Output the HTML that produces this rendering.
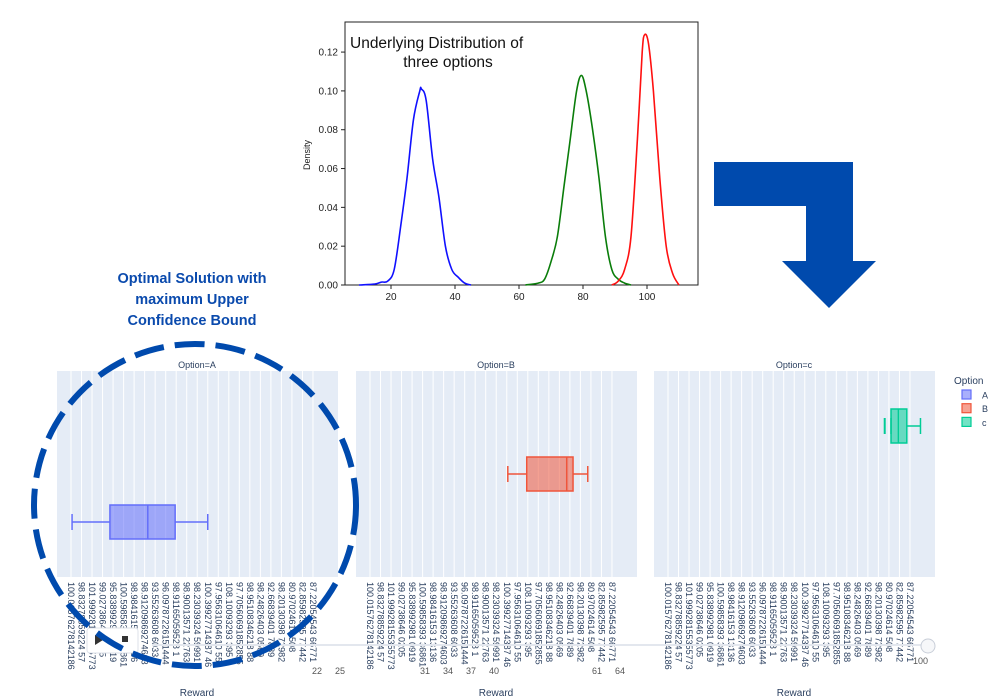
<!DOCTYPE html>
<html><head><meta charset="utf-8">
<style>
html,body{margin:0;padding:0;background:#fff;}
svg{display:block;font-family:"Liberation Sans",sans-serif;}
</style></head>
<body>
<svg id="root" width="1000" height="700" viewBox="0 0 1000 700">
  <g id="density">
    <rect x="345" y="22" width="353" height="263" fill="none" stroke="#222" stroke-width="1"/>
    <text x="350" y="48" font-size="15.5" fill="#111">Underlying Distribution of</text>
    <text x="448" y="67" font-size="15.5" fill="#111" text-anchor="middle">three options</text>
    <text transform="translate(310,155) rotate(-90)" font-size="9" fill="#222" text-anchor="middle">Density</text>
  </g>
  <path d="M714 162 H853 V261 H876 L829 308 L782 261 H806 V206 H714 Z" fill="#004aad"/>
  <g font-size="14.5" font-weight="bold" fill="#0a4aad" text-anchor="middle">
    <text x="192" y="283">Optimal Solution with</text>
    <text x="192" y="304">maximum Upper</text>
    <text x="192" y="325">Confidence Bound</text>
  </g>
  <g id="facets"></g>
  <g>
    <rect x="87" y="628" width="51" height="25" rx="3" fill="#fff" stroke="#dde2ea"/>
    <path d="M95 635 L103 640 L95 645 Z" fill="#333"/>
    <rect x="122" y="636" width="6" height="6" fill="#333"/>
    <line x1="152" y1="645" x2="925" y2="645" stroke="#e3e7ee" stroke-width="2"/>
    <circle cx="928" cy="646" r="7" fill="#f6f7f9" stroke="#c8ced8"/>
    <g font-size="9" fill="#555">
      <text x="312" y="674">22</text><text x="335" y="674">25</text><text x="420" y="674">31</text><text x="443" y="674">34</text><text x="466" y="674">37</text><text x="489" y="674">40</text><text x="592" y="674">61</text><text x="615" y="674">64</text><text x="913" y="664">100</text>
    </g>
  </g>
  <circle cx="195" cy="505" r="161" fill="none" stroke="#004aad" stroke-width="6" stroke-dasharray="30 11"/>
</svg>
<script>
const blueX=[10,15,17,19,21,23,25,27,29,29.5,31,33,35,37,39,41,43,45];
const blueY=[0,0.0005,0.0015,0.002,0.008,0.03,0.055,0.085,0.1,0.101,0.095,0.065,0.045,0.02,0.008,0.004,0.001,0];
const greenX=[62,66,68,70,72,74,76,78,79.5,81,83,85,87,89,91,93,95];
const greenY=[0,0.001,0.003,0.012,0.025,0.05,0.075,0.1,0.108,0.1,0.08,0.055,0.025,0.008,0.003,0.001,0];
const redX=[89,91,93,95,97,98.5,99.3,100.5,102,104,106,108,110];
const redY=[0,0.002,0.008,0.025,0.075,0.12,0.129,0.124,0.1,0.055,0.02,0.006,0];
const xTicks=[20,40,60,80,100];
const yTicks=[0,0.02,0.04,0.06,0.08,0.10,0.12];
const facets=["A","B","c"];
const boxLo=[0.1,13.1,21.2];
const boxQ1=[3.7,14.9,21.2];
const boxMed=[7.3,18.7,21.9];
const boxQ3=[9.9,19.3,22.7];
const boxHi=[13.0,20.7,24.0];
const boxOutlier=[null,null,20.6];
const boxRow=[2,1,0];
const rewardLabels=["100.01576278142186","98.83278859224 57","101.99928155355773","99.02738646 0205","95.838992981 0919","100.59858393 36861","98.98416153 13136","98.91209869274603","93.55263608 6033","96.09787226151444","98.91165059528 1","98.90013571 22763","98.23039324 59991","100.39927714387 46","97.95631064610 55","108.10093293 395","97.70560691852855","98.95108346218 88","98.24826403 0569","92.66839401 7889","98.20130398 72982","80.97024614 508","82.85982595 77442","87.22054543 66771"];
const colors=[["#636efa","rgba(99,110,250,0.55)"],["#ef553b","rgba(239,85,59,0.55)"],["#00cc96","rgba(0,204,150,0.55)"]];

const NS="http://www.w3.org/2000/svg";
function mk(tag,attrs,parent){const e=document.createElementNS(NS,tag);for(const k in attrs)e.setAttribute(k,attrs[k]);parent.appendChild(e);return e;}
function smooth(p){let d=`M${p[0][0]},${p[0][1]}`;for(let i=0;i<p.length-1;i++){const a=p[i-1]||p[i],b=p[i],c=p[i+1],e=p[i+2]||c;const c1=[b[0]+(c[0]-a[0])/6,b[1]+(c[1]-a[1])/6],c2=[c[0]-(e[0]-b[0])/6,c[1]-(e[1]-b[1])/6];d+=` C${c1[0].toFixed(1)},${c1[1].toFixed(1)} ${c2[0].toFixed(1)},${c2[1].toFixed(1)} ${c[0].toFixed(1)},${c[1].toFixed(1)}`;}return d;}

const dg=document.getElementById('density');
const dx=v=>327+v*3.2;
const dy=v=>285-v*1941;
xTicks.forEach(t=>{
  const l=mk('line',{x1:dx(t),x2:dx(t),y1:285,y2:289,stroke:'#222'},dg);
  
  
  const tx=mk('text',{x:dx(t),y:300,'font-size':10,'text-anchor':'middle',fill:'#222'},dg);tx.textContent=t;
  
  
});
yTicks.forEach(t=>{
  const l=mk('line',{x1:341,x2:345,y1:dy(t),y2:dy(t),stroke:'#222'},dg);
  
  
  const tx=mk('text',{x:338,y:dy(t)+3.5,'font-size':10,'text-anchor':'end',fill:'#222'},dg);tx.textContent=t.toFixed(2);
  
  
});
[[blueX,blueY,'#1010ff','density-line-a'],[greenX,greenY,'#0a7d0a','density-line-c'],[redX,redY,'#ff1010','density-line-b']].forEach(s=>{
  const pts=s[0].map((x,i)=>[dx(x),dy(s[1][i])]);
  const p=mk('path',{d:smooth(pts),fill:'none',stroke:s[2],'stroke-width':1.6,'stroke-linejoin':'round'},dg);
  
  
});

const fg=document.getElementById('facets');
const plotLeft=[57,356,654];
const rowY=[426,474,522];
facets.forEach((f,i)=>{
  const g=mk('g',{},fg);
  
  
  const L=plotLeft[i];
  const bg=mk('rect',{x:L,y:371,width:281,height:206,fill:'#e5ecf6'},g);
  
  
  const gx=k=>L+14+k*10.52;
  rewardLabels.forEach((lab,k)=>{
    const ln=mk('line',{x1:gx(k),x2:gx(k),y1:371,y2:577,stroke:'#fff','stroke-width':1},g);
    
    
    const t=mk('text',{transform:`translate(${gx(k)-3},582) rotate(90)`,'font-size':9,fill:'#2a3f5f'},g);t.textContent=lab;
    
    
  });
  const tt=mk('text',{x:L+140,y:368,'font-size':9,'text-anchor':'middle',fill:'#2a3f5f'},g);tt.textContent='Option='+f;
  
  
  const rt=mk('text',{x:L+140,y:696,'font-size':10,'text-anchor':'middle',fill:'#2a3f5f'},g);rt.textContent='Reward';
  
  
  const cy=rowY[boxRow[i]], h=34, c=colors[i];
  const wl=mk('line',{x1:gx(boxLo[i]),x2:gx(boxQ1[i]),y1:cy,y2:cy,stroke:c[0],'stroke-width':1.5},g);
  
  
  const wh=mk('line',{x1:gx(boxQ3[i]),x2:gx(boxHi[i]),y1:cy,y2:cy,stroke:c[0],'stroke-width':1.5},g);
  
  
  [boxLo[i],boxHi[i]].forEach(v=>{
    const cap=mk('line',{x1:gx(v),x2:gx(v),y1:cy-8,y2:cy+8,stroke:c[0],'stroke-width':1.5},g);
    
    
  });
  const bx=mk('rect',{x:gx(boxQ1[i]),y:cy-h/2,width:gx(boxQ3[i])-gx(boxQ1[i]),height:h,fill:c[1],stroke:c[0],'stroke-width':1.5},g);
  
  
  const md=mk('line',{x1:gx(boxMed[i]),x2:gx(boxMed[i]),y1:cy-h/2,y2:cy+h/2,stroke:c[0],'stroke-width':1.5},g);
  
  
  if(boxOutlier[i]!==null){
    const o=mk('line',{x1:gx(boxOutlier[i]),x2:gx(boxOutlier[i]),y1:cy-8,y2:cy+8,stroke:c[0],'stroke-width':2},g);
    
    
  }
});
const lg=mk('g',{},fg);


const lt=mk('text',{x:954,y:384,'font-size':10,fill:'#2a3f5f'},lg);lt.textContent='Option';


facets.forEach((f,i)=>{
  const y=395+i*13.7;
  const r=mk('rect',{x:962,y:y-5,width:9,height:9,fill:colors[i][1],stroke:colors[i][0],'stroke-width':1.2},lg);
  
  
  const t=mk('text',{x:982,y:y+3.5,'font-size':9,fill:'#2a3f5f'},lg);t.textContent=f;
  
  
});
</script>
</body></html>
